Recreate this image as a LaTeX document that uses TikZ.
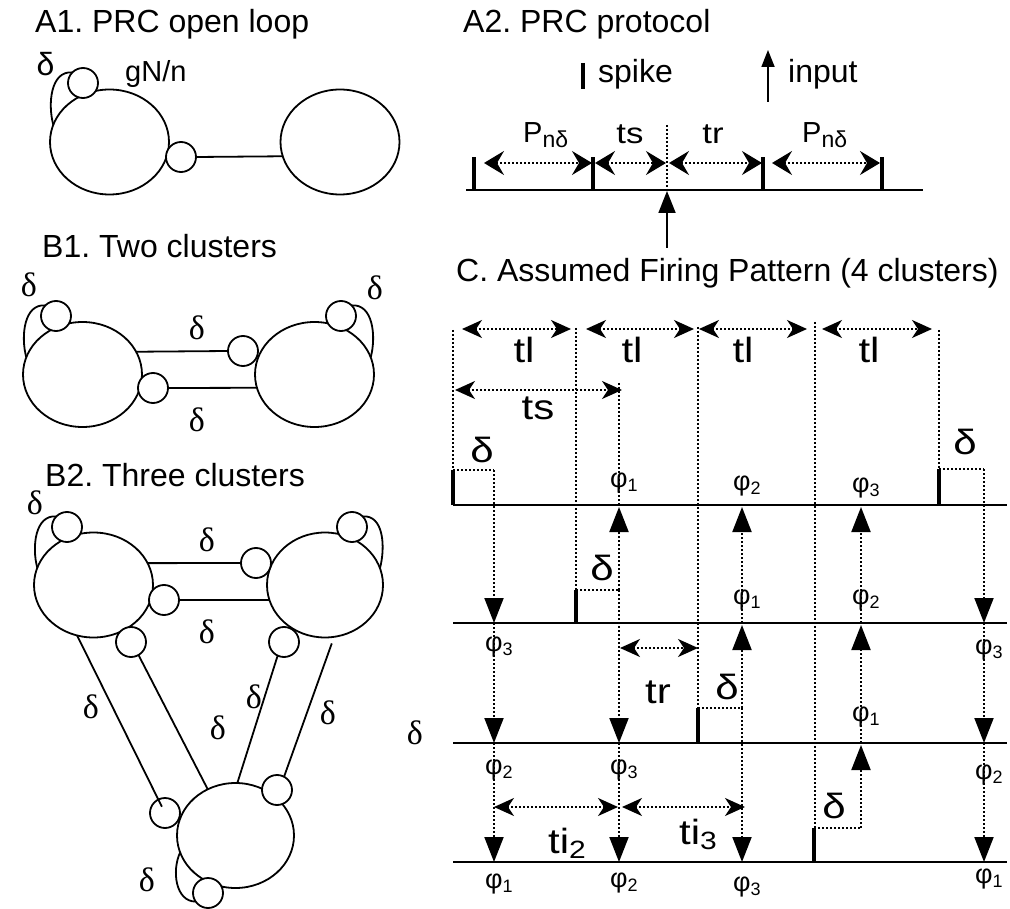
\documentclass[tikz,border=0pt]{standalone}
\usepackage{fontspec}
\setmainfont{Liberation Sans}
\newfontfamily\serifd{Liberation Serif}
\newfontfamily\widef[FakeStretch=1.2]{Liberation Sans}
\usetikzlibrary{arrows.meta,shapes.geometric}
\newcommand{\myphi}[1]{φ\raisebox{-4pt}{\fontsize{18}{18}\selectfont #1}}
\newcommand{\mysub}[2]{#1\raisebox{-5pt}{\fontsize{23}{23}\selectfont #2}}
\begin{document}
\frenchspacing
\begin{tikzpicture}[x=1pt,y=-1pt,
  big/.style={draw,ellipse,line width=1.8pt,minimum width=119pt,minimum height=105pt,inner sep=0pt,outer sep=0pt},
  sm/.style={draw,circle,line width=1.8pt,fill=white,minimum size=30pt,inner sep=0pt,outer sep=0pt},
  ln/.style={line width=1.8pt},
  ttl/.style={font=\fontsize{32}{34}\selectfont,anchor=base west,inner sep=0pt},
  sd/.style={font=\serifd\fontsize{34}{36}\selectfont,inner sep=0pt},
  sdl/.style={font=\fontsize{32}{34}\selectfont,inner sep=0pt},
  wl/.style={font=\widef\fontsize{35}{37}\selectfont,inner sep=0pt},
  wa/.style={font=\widef\fontsize{29}{31}\selectfont,inner sep=0pt},
  ph/.style={font=\fontsize{27}{29}\selectfont,inner sep=0pt,anchor=base west},
  dotl/.style={line width=2pt,dash pattern=on 2pt off 2pt},
  spk/.style={line width=4.5pt},
  ax/.style={line width=2.2pt},
  dbl/.style={dotl,{Stealth[length=20pt,width=18pt,inset=6pt]}-{Stealth[length=20pt,width=18pt,inset=6pt]}},
  dblA/.style={dotl,{Stealth[length=20pt,width=24pt,inset=7pt]}-{Stealth[length=20pt,width=24pt,inset=7pt]}},
  dn/.style={dotl,-{Triangle[length=25pt,width=19pt]}},
]
\fill[white] (0,0) rectangle (1010,909);
\useasboundingbox (0,0) rectangle (1010,909);

% ---------------- A1 ----------------
\node[ttl] (tA1) at (35,33) {A1. PRC open loop};
\node[big] (a1L) at (109.5,142) {};
\node[big] (a1R) at (340,142) {};
\node[sm] (a1s) at (83,83) {};
\node[sm] (a1c) at (181,157) {};
\draw[ln] (a1s.135) to[out=175,in=105] (a1L.163);
\draw[ln] (a1c.east) -- (a1R.194.7);
\node[sdl] (a1d) at (45.5,64) {δ};
\node[anchor=base west,inner sep=0pt,font=\fontsize{29}{31}\selectfont] (a1g) at (125,82) {gN/n};

% ---------------- A2 ----------------
\node[ttl] (tA2) at (463,33) {A2. PRC protocol};
\coordinate (lgS1) at (583,63); \coordinate (lgS2) at (583,89);
\draw[spk] (lgS1) -- (lgS2);
\node[ttl] (lgspike) at (598,83) {spike};
\coordinate (lgIb) at (768,102); \coordinate (lgIt) at (768,50);
\draw[ln,-{Triangle[length=17pt,width=13pt]}] (lgIb) -- (lgIt);
\node[ttl] (lginput) at (788,83) {input};
\coordinate (a2L) at (466,190); \coordinate (a2R) at (923,190);
\draw[ax] (a2L) -- (a2R);
\foreach \x in {474,593,763,882} \draw[spk] (\x,190) -- (\x,157);
\coordinate (a2st) at (667,125); \coordinate (a2sb) at (667,190);
\draw[dotl] (a2st) -- (a2sb);
\coordinate (a2in) at (667,248);
\draw[ln,-{Triangle[length=22pt,width=17pt]}] (a2in) -- (667,191);
\draw[dblA] (484,163) -- (592,163);
\draw[dblA] (595,163) -- (666,163);
\draw[dblA] (669,163) -- (762,163);
\draw[dblA] (772,163) -- (880,163);
\node[anchor=base west,inner sep=0pt,font=\fontsize{29}{31}\selectfont] (a2P1) at (523,143) {\mysub{P}{nδ}};
\node[anchor=base west,inner sep=0pt,font=\fontsize{29}{31}\selectfont] (a2P2) at (802,143) {\mysub{P}{nδ}};
\node[wa] (a2ts) at (630,134) {ts};
\node[wa] (a2tr) at (713,134) {tr};

% ---------------- B1 ----------------
\node[ttl] (tB1) at (42,258) {B1. Two clusters};
\node[big] (b1L) at (82.5,374.5) {};
\node[big] (b1R) at (314.5,374.5) {};
\node[sm] (b1s1) at (56,316) {};
\node[sm] (b1s2) at (341,316) {};
\node[sm] (b1u) at (243,351) {};
\node[sm] (b1l) at (153,388) {};
\draw[ln] (b1s1.135) to[out=175,in=105] (b1L.163);
\draw[ln] (b1s2.45) to[out=5,in=75] (b1R.17);
\draw[ln] (b1L.23.8) -- (b1u.west);
\draw[ln] (b1l.east) -- (b1R.193.2);
\node[sd] (b1d1) at (29,285) {δ};
\node[sd] (b1d2) at (375,288) {δ};
\node[sd] (b1d3) at (197,328) {δ};
\node[sd] (b1d4) at (197,420) {δ};

% ---------------- B2 ----------------
\node[ttl] (tB2) at (45,486) {B2. Three clusters};
\node[big] (TL) at (93.5,585) {};
\node[big,minimum width=116pt] (TR) at (325,585) {};
\node[big,minimum width=117pt] (BB) at (235.5,835.5) {};
\node[sm] (c1) at (67,527) {};
\node[sm] (c2) at (352,527) {};
\node[sm] (cu) at (256,563) {};
\node[sm] (cl) at (164,600) {};
\node[sm] (c3) at (131,642) {};
\node[sm] (c5) at (284,642) {};
\node[sm] (c4) at (165,813) {};
\node[sm] (c6) at (277,790) {};
\node[sm] (c7) at (208,893) {};
\draw[ln] (c1.135) to[out=175,in=105] (TL.163);
\draw[ln] (c2.45) to[out=5,in=75] (TR.17);
\draw[ln] (BB.197) to[out=245,in=180] (c7.215);
\draw[ln] (TL.22.2) -- (cu.west);
\draw[ln] (cl.east) -- (TR.195.1);
\draw[ln] (c3.-60) -- (BB.121);
\draw[ln,shorten >=7pt] (TL.252) -- (c4.center);
\draw[ln] (c5.245) -- (BB.88);
\draw[ln,shorten <=7pt] (TR.280) -- (c6.62);
\node[sd] (b2d1) at (35,503) {δ};
\node[sd] (b2d2) at (207,540) {δ};
\node[sd] (b2d3) at (207,632) {δ};
\node[sd] (b2d4) at (91,707) {δ};
\node[sd] (b2d5) at (218,728) {δ};
\node[sd] (b2d6) at (254,697) {δ};
\node[sd] (b2d7) at (328,713) {δ};
\node[sd] (b2d8) at (415,733) {δ};
\node[sd] (b2d9) at (147,880) {δ};

% ---------------- C ----------------
\node[ttl] (tC) at (456,282) {C. Assumed Firing Pattern (4 clusters)};
\foreach \n/\y in {1/505,2/623,3/743,4/862}{
  \coordinate (axL\n) at (453,\y); \coordinate (axR\n) at (1007,\y);
  \draw[ax] (axL\n) -- (axR\n);
}
% spikes
\draw[spk] (453,505) -- (453,470);
\draw[spk] (939,505) -- (939,469);
\draw[spk] (576,623) -- (576,590);
\draw[spk] (698,743) -- (698,708);
\draw[spk] (814,862) -- (814,828);
% delays
\draw[dotl] (453,470) -- (494,470);
\draw[dotl] (939,469) -- (984,469);
\draw[dotl] (576,590) -- (619,590);
\draw[dotl] (698,708) -- (742,708);
\draw[dotl] (814,828) -- (861,828);
% time markers
\draw[dotl] (453,330) -- (453,470);
\draw[dotl] (576,328) -- (576,590);
\draw[dotl] (698,327) -- (698,708);
\draw[dotl] (815,322) -- (815,828);
\draw[dotl] (939,330) -- (939,469);
% inputs
\draw[dn] (494,470) -- (494,623);
\draw[dn] (494,623) -- (494,743);
\draw[dn] (494,743) -- (494,862);
\draw[dotl] (619,383) -- (619,505);
\draw[dn] (619,590) -- (619,507);
\draw[dn] (619,590) -- (619,743);
\draw[dn] (619,743) -- (619,862);
\draw[dn] (742,708) -- (742,625);
\draw[dn] (742,623) -- (742,507);
\draw[dn] (742,708) -- (742,862);
\draw[dn] (861,828) -- (861,745);
\draw[dn] (861,743) -- (861,625);
\draw[dn] (861,623) -- (861,507);
\draw[dn] (984,469) -- (984,623);
\draw[dn] (984,623) -- (984,743);
\draw[dn] (984,743) -- (984,862);
% intervals
\draw[dbl] (462,329) -- (571,329);
\draw[dbl] (586,329) -- (694,329);
\draw[dbl] (699,329) -- (807,329);
\draw[dbl] (822,329) -- (932,329);
\draw[dbl] (455,390) -- (622,390);
\draw[dbl] (620,648) -- (698,648);
\draw[dbl] (494,807) -- (618,807);
\draw[dbl] (622,807) -- (745,807);
\node[wl] (ctl1) at (524,350) {tl};
\node[wl] (ctl2) at (632,350) {tl};
\node[wl] (ctl3) at (743,350) {tl};
\node[wl] (ctl4) at (869,350) {tl};
\node[wl] (cts) at (538,408) {ts};
\node[wl] (ctr) at (658,692) {tr};
\node[wl,anchor=base west] (cti2) at (548,853) {ti\raisebox{-5pt}{\fontsize{25}{25}\selectfont 2}};
\node[wl,anchor=base west] (cti3) at (679,844) {ti\raisebox{-5pt}{\fontsize{25}{25}\selectfont 3}};
\node[wl] (cd1) at (482,450) {δ};
\node[wl] (cd2) at (965,442) {δ};
\node[wl] (cd3) at (602,568) {δ};
\node[wl] (cd4) at (727,687) {δ};
\node[wl] (cd5) at (834,806) {δ};
% phase labels
\node[ph] (p11) at (610,487) {\myphi{1}};
\node[ph] (p12) at (733,490) {\myphi{2}};
\node[ph] (p13) at (852,492) {\myphi{3}};
\node[ph] (p21) at (733,604) {\myphi{1}};
\node[ph] (p22) at (852,604) {\myphi{2}};
\node[ph] (p23) at (485,651) {\myphi{3}};
\node[ph] (p24) at (975,654) {\myphi{3}};
\node[ph] (p31) at (852,721) {\myphi{1}};
\node[ph] (p32) at (485,774) {\myphi{2}};
\node[ph] (p33) at (610,774) {\myphi{3}};
\node[ph] (p34) at (975,779) {\myphi{2}};
\node[ph] (p41) at (485,888) {\myphi{1}};
\node[ph] (p42) at (610,887) {\myphi{2}};
\node[ph] (p43) at (733,891) {\myphi{3}};
\node[ph] (p44) at (975,883) {\myphi{1}};
\end{tikzpicture}
\end{document}
